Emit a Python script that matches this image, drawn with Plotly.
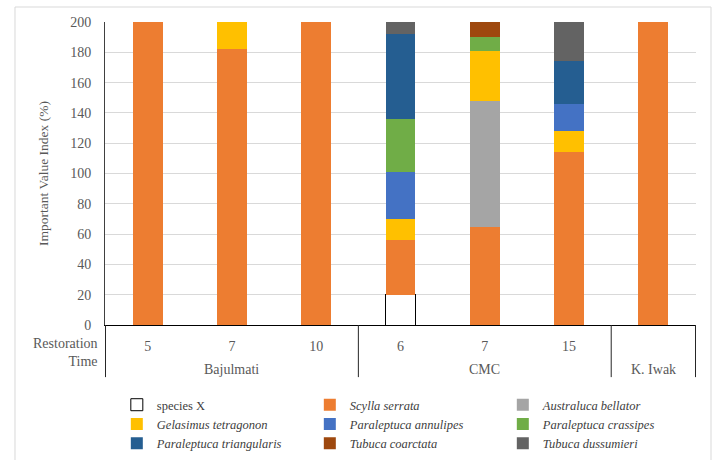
import plotly.graph_objects as go

# Sites and restoration times (years)
sites = ["Bajulmati", "CMC", "K. Iwak"]
site_of_bar = ["Bajulmati", "Bajulmati", "Bajulmati", "CMC", "CMC", "CMC", "K. Iwak"]
times = ["5", "7", "10", "6", "7", "15", ""]
bars = [f"{s} {t}".strip() for s, t in zip(site_of_bar, times)]

# Important Value Index (%) per species, stacked bottom to top
species_x = [None, None, None, 20, None, None, None]
scylla_serrata = [200, 182, 200, 36, 65, 114, 200]
australuca_bellator = [0, 0, 0, 0, 83, 0, 0]
gelasimus_tetragonon = [0, 18, 0, 14, 33, 14, 0]
paraleptuca_annulipes = [0, 0, 0, 31, 0, 18, 0]
paraleptuca_crassipes = [0, 0, 0, 35, 9, 0, 0]
paraleptuca_triangularis = [0, 0, 0, 56, 0, 28, 0]
tubuca_coarctata = [0, 0, 0, 0, 10, 0, 0]
tubuca_dussumieri = [0, 0, 0, 8, 0, 26, 0]

series = [
    ("species X", species_x, "white"),
    ("<i>Scylla serrata</i>", scylla_serrata, "#ED7D31"),
    ("<i>Australuca bellator</i>", australuca_bellator, "#A5A5A5"),
    ("<i>Gelasimus tetragonon</i>", gelasimus_tetragonon, "#FFC000"),
    ("<i>Paraleptuca annulipes</i>", paraleptuca_annulipes, "#4472C4"),
    ("<i>Paraleptuca crassipes</i>", paraleptuca_crassipes, "#70AD47"),
    ("<i>Paraleptuca triangularis</i>", paraleptuca_triangularis, "#255E91"),
    ("<i>Tubuca coarctata</i>", tubuca_coarctata, "#9E480E"),
    ("<i>Tubuca dussumieri</i>", tubuca_dussumieri, "#636363"),
]

FONT = "Times New Roman, Liberation Serif, DejaVu Serif, serif"
GREY = "#595959"
LINE = "#262626"

fig = go.Figure()
for name, vals, color in series:
    outline = dict(color="black", width=1) if name == "species X" else dict(width=0)
    fig.add_trace(go.Bar(
        x=bars, y=vals, name=name,
        marker=dict(color=color, line=outline),
    ))

fig.update_layout(
    width=715, height=460,
    margin=dict(l=105, r=19, t=22, b=135),
    barmode="stack", bargap=0.645,
    plot_bgcolor="white", paper_bgcolor="white",
    font=dict(family=FONT, size=14, color=GREY),
    legend=dict(
        orientation="h", x=0.02, xanchor="left",
        yref="container", y=0.152, yanchor="top",
        entrywidth=148, entrywidthmode="pixels", traceorder="normal",
        font=dict(family=FONT, size=12.5, color="#404040"),
    ),
    xaxis=dict(
        type="category", categoryorder="array", categoryarray=bars,
        tickvals=bars, ticktext=times, ticks="",
        showline=True, linecolor="black", linewidth=1, showgrid=False,
        ticklabelstandoff=8,
        tickfont=dict(family=FONT, size=14, color=GREY),
    ),
    yaxis=dict(
        range=[0, 200], dtick=20, showgrid=True, gridcolor="#D9D9D9",
        showline=True, linecolor="#404040", linewidth=1, zeroline=False,
        ticklabelstandoff=10,
        tickfont=dict(family=FONT, size=14, color=GREY),
        title=dict(text="Important Value Index (%)", standoff=18,
                   font=dict(family=FONT, size=13.5, color=GREY)),
    ),
)

# Site names centred under their groups of bars
for site in sites:
    idx = [i for i, s in enumerate(site_of_bar) if s == site]
    fig.add_annotation(
        text=site, xref="x", yref="paper",
        x=(idx[0] + idx[-1]) / 2, y=-0.1485, yanchor="middle",
        showarrow=False, font=dict(family=FONT, size=14, color=GREY),
    )

# Vertical dividers between site groups
edges = [-0.5] + [i + 0.5 for i in range(len(site_of_bar) - 1)
                  if site_of_bar[i] != site_of_bar[i + 1]] + [len(site_of_bar) - 0.5]
for xe in edges:
    fig.add_shape(
        type="line", xref="x", yref="paper", x0=xe, x1=xe, y0=0, y1=-0.172,
        line=dict(color=LINE, width=1),
    )

fig.add_annotation(
    text="Restoration<br>Time", xref="paper", yref="paper",
    x=-0.008, y=-0.092, xanchor="right", yanchor="middle", align="right",
    showarrow=False, font=dict(family=FONT, size=14, color=GREY),
)

# Light frame around the whole chart
fig.add_shape(
    type="rect", xref="paper", yref="paper",
    x0=-0.1523, x1=1.0254, y0=-0.50, y1=1.0495,
    line=dict(color="#D9D9D9", width=1), fillcolor="rgba(0,0,0,0)", layer="below",
)

fig.write_html("out.html")
